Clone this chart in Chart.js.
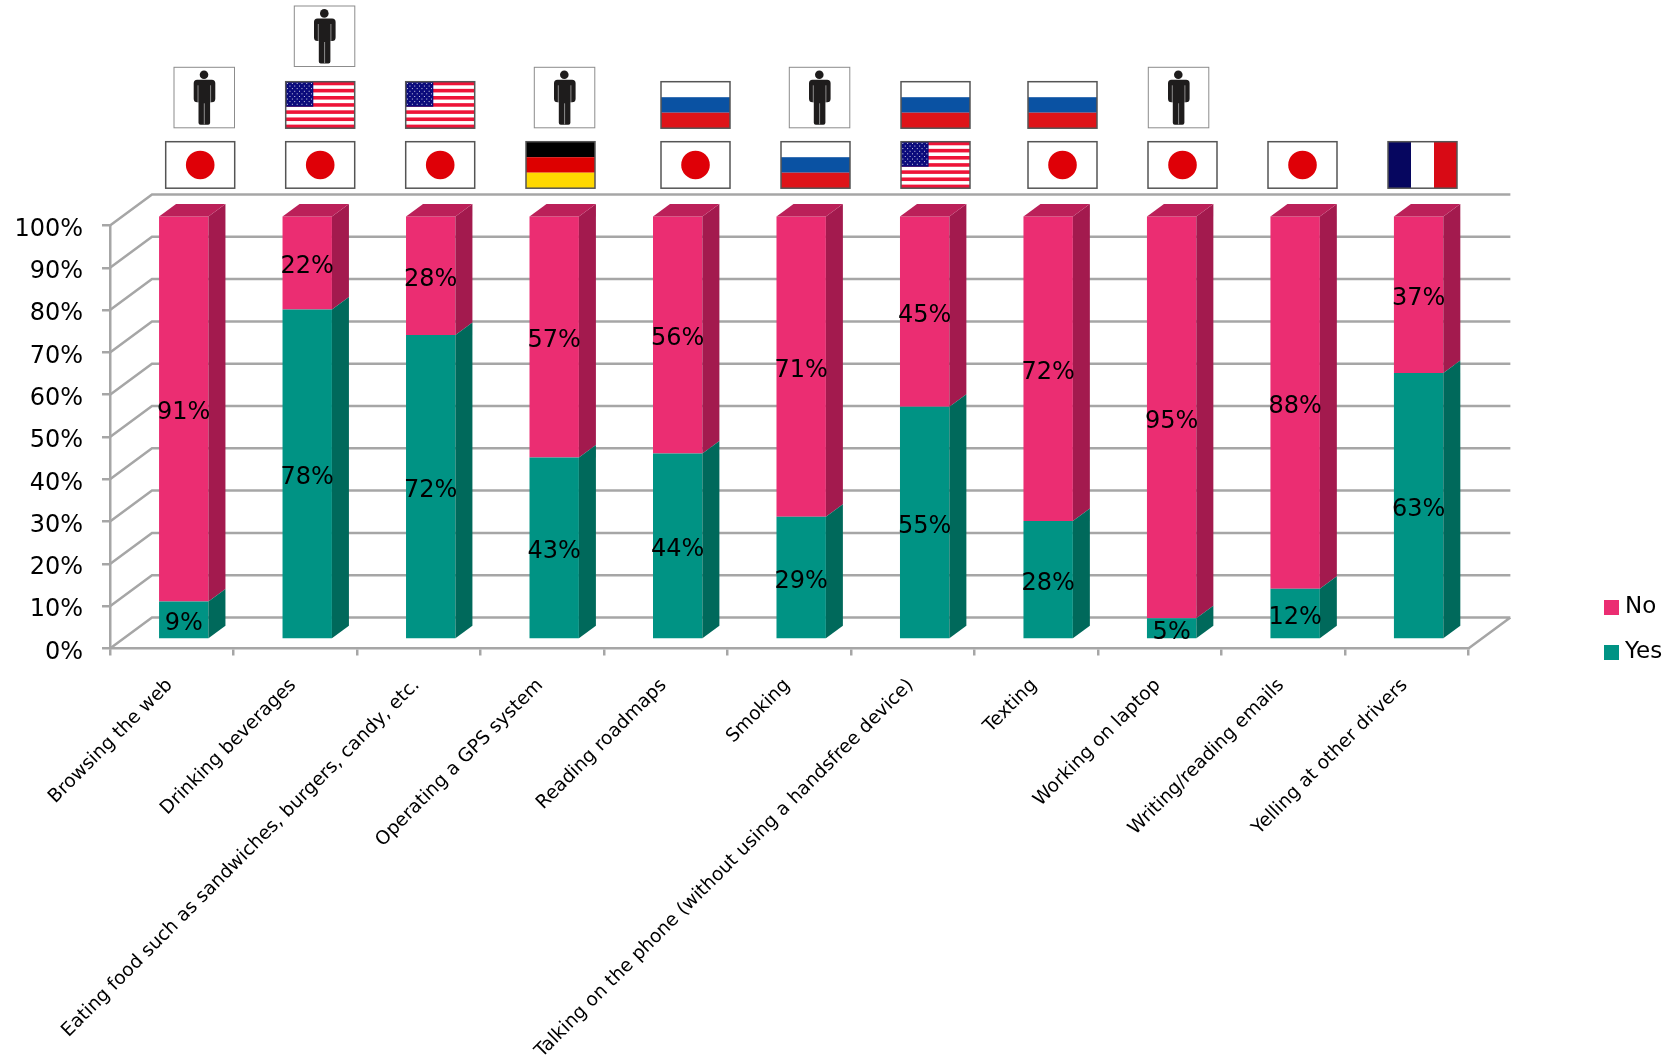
<!DOCTYPE html>
<html>
<head>
<meta charset="utf-8">
<title>Driving habits</title>
<script src="https://cdn.jsdelivr.net/npm/chart.js@4"></script>
<style>
    html, body { margin: 0; padding: 0; background: #fff; }
    #wrap { width: 1677px; height: 1061px; }
</style>
</head>
<body>
<div id="wrap"><canvas id="myChart"></canvas></div>
<script>
const categories = [
    'Browsing the web',
    'Drinking beverages',
    'Eating food such as sandwiches, burgers, candy, etc.',
    'Operating a GPS system',
    'Reading roadmaps',
    'Smoking',
    'Talking on the phone (without using a handsfree device)',
    'Texting',
    'Working on laptop',
    'Writing/reading emails',
    'Yelling at other drivers'
];
const yesValues = [9, 78, 72, 43, 44, 29, 55, 28, 5, 12, 63];
const noValues = [91, 22, 28, 57, 56, 71, 45, 72, 95, 88, 37];
const yTicks = [0, 10, 20, 30, 40, 50, 60, 70, 80, 90, 100];

// icons stacked above each bar, bottom one first
const barIcons = [
    ['japan', 'person'],
    ['japan', 'usa', 'person'],
    ['japan', 'usa'],
    ['germany', 'person'],
    ['japan', 'russia'],
    ['russia', 'person'],
    ['usa', 'russia'],
    ['japan', 'russia'],
    ['japan', 'person'],
    ['japan'],
    ['france']
];

const font = 'DejaVu Sans';
const gridColor = '#a6a6a6';

// fake 3D: how far the back wall sits from the front plane, and the bars
const wall = { dx: 42, dy: 31 };
const barShift = { dx: 12, dy: 9 };
const barDepth = { dx: 17, dy: 12.5 };

const faces = {
    Yes: { side: '#00695b' },
    No: { side: '#a31a4e', top: '#bb2059' }
};

// icons are pasted pictures in the original, so placed by hand
const iconLeft = [165.7, 285.7, 405.7, 526, 661, 781, 901, 1028, 1148, 1268, 1388];
const personLeft = [174, 294.3, 0, 534.3, 0, 789.3, 0, 0, 1148.3, 0, 0];
const flagRows = [141.7, 81.7];
const personTops = { 1: 67.3, 2: 6 };

function flagBox(ctx, x, y, w, h) {
    ctx.strokeStyle = '#555';
    ctx.lineWidth = 1.5;
    ctx.strokeRect(x, y, w, h);
}

function bands(ctx, x, y, w, h, colors) {
    const bh = h / colors.length;
    colors.forEach((c, i) => {
        ctx.fillStyle = c;
        ctx.fillRect(x, y + i * bh, w, bh);
    });
}

function drawFlag(ctx, name, x, y) {
    const w = 69, h = 46.5;
    ctx.fillStyle = '#fff';
    ctx.fillRect(x, y, w, h);
    if (name === 'japan') {
        ctx.fillStyle = '#df0007';
        ctx.beginPath();
        ctx.arc(x + w / 2, y + h / 2, 14.3, 0, Math.PI * 2);
        ctx.fill();
    } else if (name === 'russia') {
        bands(ctx, x, y, w, h, ['#fff', '#0a52a3', '#de1419']);
    } else if (name === 'germany') {
        bands(ctx, x, y, w, h, ['#000', '#dd0000', '#ffd800']);
    } else if (name === 'france') {
        ctx.fillStyle = '#06065f';
        ctx.fillRect(x, y, w / 3, h);
        ctx.fillStyle = '#d80a15';
        ctx.fillRect(x + w * 2 / 3, y, w / 3, h);
    } else if (name === 'usa') {
        const stripe = h / 13;
        ctx.fillStyle = '#ee1438';
        for (let i = 0; i < 13; i += 2) {
            ctx.fillRect(x, y + i * stripe, w, stripe);
        }
        ctx.fillStyle = '#0b0b7c';
        ctx.fillRect(x, y, w * 0.4, stripe * 7);
        ctx.fillStyle = '#fff';
        for (let r = 0; r < 9; r++) {
            for (let c = 0; c < 11; c++) {
                if ((r + c) % 2) continue;
                ctx.fillRect(x + 1.4 + c * 2.4, y + 1.3 + r * 2.6, 0.9, 0.9);
            }
        }
    }
    flagBox(ctx, x, y, w, h);
}

function drawPerson(ctx, x, y) {
    ctx.strokeStyle = '#8c8c8c';
    ctx.lineWidth = 1;
    ctx.strokeRect(x, y, 60.5, 60.5);
    ctx.fillStyle = '#1e1c1c';
    ctx.beginPath();
    ctx.arc(x + 30, y + 7.4, 4.3, 0, Math.PI * 2);
    ctx.fill();
    ctx.beginPath();
    ctx.roundRect(x + 19.7, y + 12.5, 21.6, 22.5, 3.5);
    ctx.roundRect(x + 24.5, y + 20, 11.6, 37.5, 2);
    ctx.fill();
    // thin gaps between arms, torso and legs
    ctx.strokeStyle = '#d8d8d8';
    ctx.lineWidth = 0.6;
    ctx.beginPath();
    ctx.moveTo(x + 24, y + 18); ctx.lineTo(x + 24, y + 35);
    ctx.moveTo(x + 36.6, y + 18); ctx.lineTo(x + 36.6, y + 35);
    ctx.moveTo(x + 30.3, y + 36); ctx.lineTo(x + 30.3, y + 57);
    ctx.stroke();
}

const fakeDepth = {
    id: 'fakeDepth',
    afterLayout(chart) {
        // legend floats in the right margin, clear of the plot
        chart.legend.left = 1587.5;
        chart.legend.top = 574;
    },
    beforeDatasetsDraw(chart) {
        const { ctx, scales: { x, y } } = chart;
        ctx.save();
        ctx.strokeStyle = gridColor;
        ctx.lineWidth = 2.5;
        ctx.beginPath();
        yTicks.forEach(v => {
            const py = y.getPixelForValue(v);
            ctx.moveTo(x.left, py);
            ctx.lineTo(x.left + wall.dx, py - wall.dy);
            ctx.lineTo(x.right + wall.dx, py - wall.dy);
        });
        ctx.moveTo(x.right, y.bottom);
        ctx.lineTo(x.right + wall.dx, y.bottom - wall.dy);
        ctx.stroke();
        ctx.restore();
    },
    beforeDatasetDraw(chart) {
        chart.ctx.save();
        chart.ctx.translate(barShift.dx, barShift.dy * -1);
    },
    afterDatasetDraw(chart, args) {
        const { ctx } = chart;
        const colors = faces[chart.data.datasets[args.index].label];
        args.meta.data.forEach(bar => {
            const right = bar.x + bar.width / 2;
            const left = bar.x - bar.width / 2;
            ctx.fillStyle = colors.side;
            ctx.beginPath();
            ctx.moveTo(right, bar.base);
            ctx.lineTo(right, bar.y);
            ctx.lineTo(right + barDepth.dx, bar.y - barDepth.dy);
            ctx.lineTo(right + barDepth.dx, bar.base - barDepth.dy);
            ctx.closePath();
            ctx.fill();
            if (colors.top) {
                ctx.fillStyle = colors.top;
                ctx.beginPath();
                ctx.moveTo(left, bar.y);
                ctx.lineTo(left + barDepth.dx, bar.y - barDepth.dy);
                ctx.lineTo(right + barDepth.dx, bar.y - barDepth.dy);
                ctx.lineTo(right, bar.y);
                ctx.closePath();
                ctx.fill();
            }
        });
        ctx.restore();
    },
    afterDatasetsDraw(chart) {
        const { ctx } = chart;
        ctx.save();
        ctx.fillStyle = '#000';
        ctx.font = '24px "' + font + '"';
        ctx.textAlign = 'center';
        ctx.textBaseline = 'middle';
        chart.data.datasets.forEach((ds, i) => {
            chart.getDatasetMeta(i).data.forEach((bar, j) => {
                const cy = (bar.y + bar.base) / 2 - barShift.dy;
                ctx.fillText(ds.data[j] + '%', bar.x + barShift.dx, cy + 4);
            });
        });
        barIcons.forEach((icons, i) => {
            let row = 0;
            icons.forEach((name, level) => {
                if (name === 'person') {
                    drawPerson(ctx, personLeft[i], personTops[level]);
                } else {
                    drawFlag(ctx, name, iconLeft[i], flagRows[row]);
                    row++;
                }
            });
        });
        ctx.restore();
    }
};

new Chart('myChart', {
    type: 'bar',
    data: {
        labels: categories,
        datasets: [
            { label: 'Yes', data: yesValues, backgroundColor: '#009384', borderWidth: 0, clip: false },
            { label: 'No', data: noValues, backgroundColor: '#eb2d72', borderWidth: 0, clip: false }
        ]
    },
    options: {
        responsive: true,
        maintainAspectRatio: false,
        animation: false,
        layout: { padding: { top: 225.5, left: 0, right: 0, bottom: 0 } },
        categoryPercentage: 0.4,
        barPercentage: 1,
        scales: {
            x: {
                stacked: true,
                afterFit: s => { s.height = 412.5; },
                border: { color: gridColor, width: 2.5 },
                grid: { drawOnChartArea: false, color: gridColor, lineWidth: 2.5, tickLength: 7 },
                ticks: {
                    color: '#000',
                    font: { family: font, size: 18.7 },
                    maxRotation: 45,
                    minRotation: 45,
                    autoSkip: false,
                    padding: 19,
                    labelOffset: -2
                }
            },
            y: {
                stacked: true,
                min: 0,
                max: 100,
                afterFit: s => { s.width = 110; },
                border: { color: gridColor, width: 2.5 },
                grid: { drawOnChartArea: false, color: gridColor, lineWidth: 2.5, tickLength: 8 },
                ticks: {
                    stepSize: 10,
                    color: '#000',
                    font: { family: font, size: 24 },
                    padding: 19,
                    labelOffset: 4,
                    callback: v => v + '%'
                }
            },
            // empty axis, only keeps the plot away from the legend
            spacer: {
                position: 'right',
                afterFit: s => { s.width = 124; },
                border: { display: false },
                grid: { display: false },
                ticks: { display: false }
            }
        },
        plugins: {
            tooltip: { enabled: false },
            legend: {
                position: 'right',
                align: 'start',
                reverse: true,
                labels: {
                    color: '#000',
                    boxWidth: 4,
                    boxHeight: 4,
                    padding: 22,
                    font: { family: font, size: 23 },
                    // swatch is mostly stroke so the text can sit closer to it
                    generateLabels(chart) {
                        const items = Chart.defaults.plugins.legend.labels.generateLabels(chart);
                        items.forEach(item => {
                            item.lineWidth = 11;
                            item.strokeStyle = item.fillStyle;
                        });
                        return items;
                    }
                }
            }
        }
    },
    plugins: [fakeDepth]
});
</script>
</body>
</html>
